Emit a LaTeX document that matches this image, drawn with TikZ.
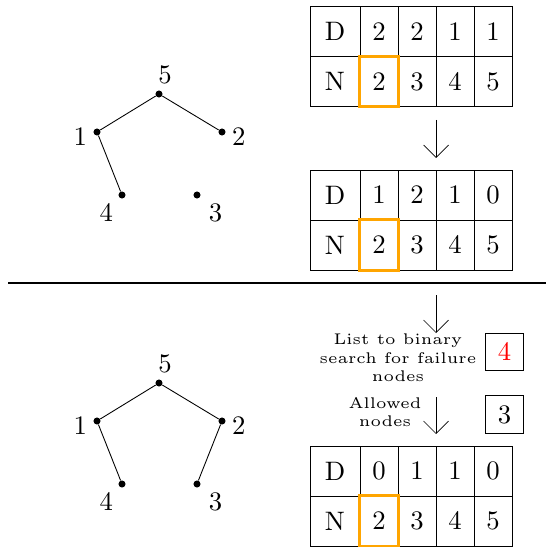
\documentclass[tikz,border=0pt]{standalone}
\usetikzlibrary{arrows.meta}
\definecolor{hlorange}{RGB}{255,165,0}
\font\bigrm=cmr10 at 15.2pt
\font\noterm=cmr5 at 8.8pt

\begin{document}
\begin{tikzpicture}[x=0.02cm,y=-0.02cm,
    big/.style={font=\bigrm},
    dot/.style={circle,fill,inner sep=0pt,minimum size=4pt,label distance=1.5pt},
    cell/.style={draw,big,inner sep=0pt,minimum width=0.76cm,minimum height=1cm},
    headcell/.style={cell,minimum width=1cm},
    hl/.style={draw=hlorange,line width=1.7pt},
    box/.style={draw,big,inner sep=0pt,minimum size=0.75cm},
    note/.style={align=center,font={\noterm\baselineskip=10.5pt\relax}},
    down/.style={-{Straight Barb[length=2.5mm,width=5mm]}}]
  \useasboundingbox (0,0) rectangle (547,547);
  % the two graphs, before and after
  \foreach \g/\dy in {u/0,v/289} {
    \node[dot,label={[big,xshift=0.12cm]above:5}] (\g5) at (159,94+\dy) {};
    \node[dot,label={[big,yshift=-0.1cm]left:1}] (\g1) at (97,132+\dy) {};
    \node[dot,label={[big,yshift=-0.1cm]right:2}] (\g2) at (222,132+\dy) {};
    \node[dot,label={[big]below left:4}] (\g4) at (122,195+\dy) {};
    \node[dot,label={[big,xshift=0.06cm]below right:3}] (\g3) at (197,195+\dy) {};
  }
  \draw[line width=0.5pt] (u5) -- (u1) (u5) -- (u2) (u1) -- (u4);
  \draw[line width=0.5pt] (v5) -- (v1) (v5) -- (v2) (v1) -- (v4) (v2) -- (v3);
  % D/N tables
  \foreach \tab/\ty/\dvals in {ta/31.5/{2,2,1,1},tb/195/{1,2,1,0},tc/471/{0,1,1,0}} {
    \node[headcell] (\tab d0) at (335,\ty) {D};
    \node[headcell] (\tab n0) at (335,\ty+50) {N};
    \foreach \v [count=\i] in \dvals {
      \pgfmathtruncatemacro\n{\i+1}
      \node[cell] (\tab d\i) at (341+38*\i,\ty) {\v};
      \node[cell] (\tab n\i) at (341+38*\i,\ty+50) {\n};
    }
    \draw[hl] (\tab n1.north west) rectangle (\tab n1.south east);
  }
  % separator
  \draw[line width=0.7pt] (8,283) -- (546,283);
  % arrows
  \coordinate (s1) at (436,120);
  \coordinate (e1) at (436,158);
  \coordinate (s2) at (436,295);
  \coordinate (e2) at (436,333);
  \coordinate (s3) at (436,397);
  \coordinate (e3) at (436,434);
  \draw[down] (s1) -- (e1);
  \draw[down] (s2) -- (e2);
  \draw[down] (s3) -- (e3);
  % search list and allowed nodes
  \node[note] (search) at (398,358) {List to binary\\search for failure\\nodes};
  \node[note] (allowed) at (385,412) {Allowed\\nodes};
  \node[box,text=red] (fail) at (504.5,352) {4};
  \node[box] (allow) at (504.5,414.5) {3};
\end{tikzpicture}
\end{document}
